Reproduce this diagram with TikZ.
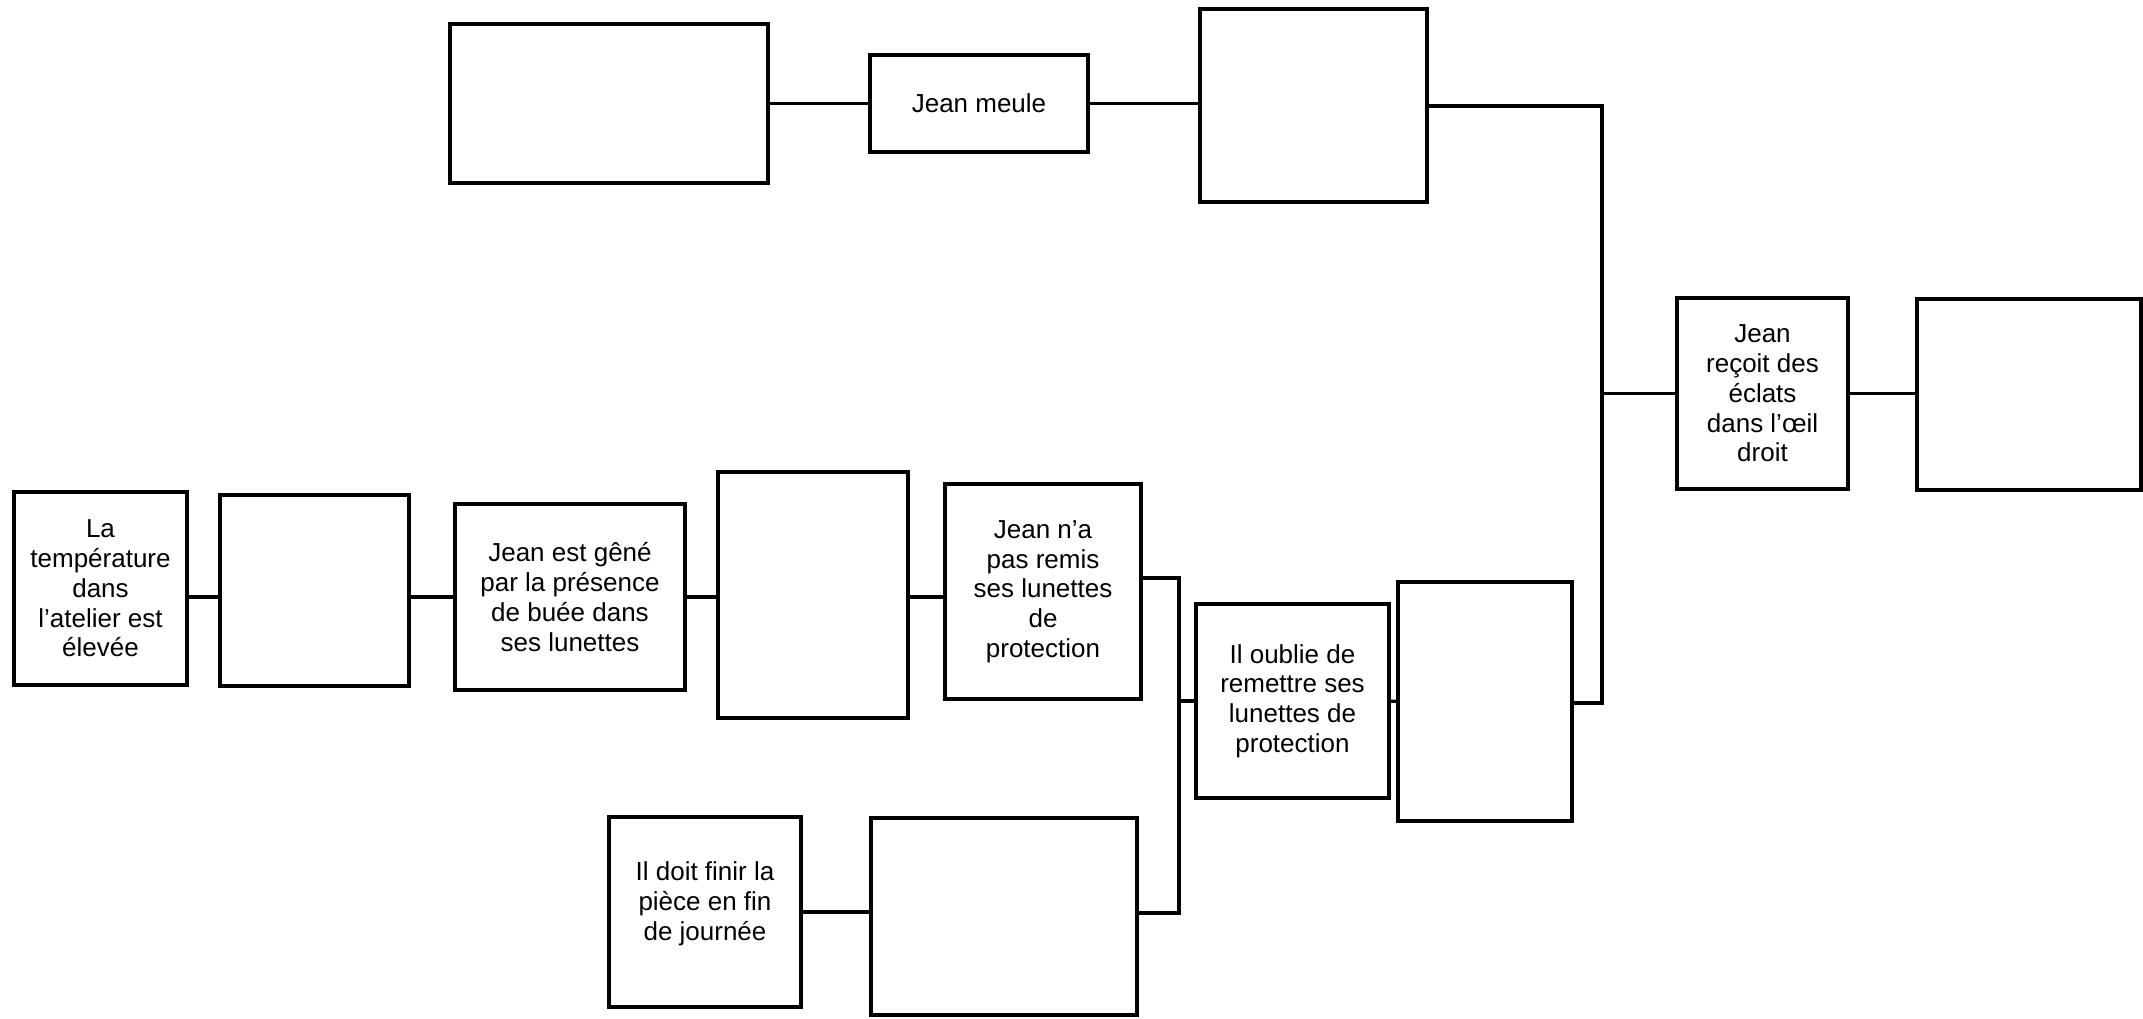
\documentclass[tikz,border=0pt]{standalone}
\usepackage{fontspec}
\setmainfont{Liberation Sans}
\begin{document}
\begin{tikzpicture}[x=0.5pt,y=-0.5pt,
  box/.style={draw, line width=1.6pt, inner sep=0pt, align=center,
    font=\fontsize{13}{14.85}\selectfont},
  conn/.style={line width=1.6pt}]
\useasboundingbox (0,0) rectangle (2143,1018);
% top row
\node[box, minimum width=159pt, minimum height=79.5pt] (t1) at (609,103.5) {};
\node[box, minimum width=109pt, minimum height=48.5pt] (m) at (979,103.5) {Jean meule};
\node[box, minimum width=113.5pt, minimum height=96.5pt] (t3) at (1313.5,105.5) {};
% right
\node[box, minimum width=85.5pt, minimum height=95.5pt] (r) at (1762.5,393.5) {Jean\\reçoit des\\éclats\\dans l’œil\\droit};
\node[box, minimum width=112pt, minimum height=95.5pt] (rj) at (2029,394.5) {};
% middle row
\node[box, minimum width=86.5pt, minimum height=96.5pt] (a) at (100.5,588.5) {La\\température\\dans\\l’atelier est\\élevée};
\node[box, minimum width=94.5pt, minimum height=95.5pt] (b) at (314.5,590.5) {};
\node[box, minimum width=115pt, minimum height=93pt] (c) at (570,597) {Jean est gêné\\par la présence\\de buée dans\\ses lunettes};
\node[box, minimum width=95pt, minimum height=123pt] (d) at (813,595) {};
\node[box, minimum width=98pt, minimum height=107.5pt] (e) at (1043,591.5) {Jean n’a\\pas remis\\ses lunettes\\de\\protection};
\node[box, minimum width=96.5pt, minimum height=97pt] (h) at (1292.5,701) {Il oublie de\\remettre ses\\lunettes de\\protection};
\node[box, minimum width=87pt, minimum height=119.5pt] (i) at (1485,701.5) {};
% bottom row
\node[box, minimum width=96pt, minimum height=95pt, text depth=11pt] (f) at (705,912) {Il doit finir la\\pièce en fin\\de journée};
\node[box, minimum width=133pt, minimum height=98.5pt] (g) at (1004,916.5) {};
% connector points
\coordinate (s1) at (1179,578);
\coordinate (s2) at (1179,913);
\coordinate (v1) at (1602,106);
\coordinate (v2) at (1602,703);
\coordinate (ly) at (0,597);
% connectors
\draw[conn] (t1) -- (m);
\draw[conn] (m.east) -- (m.east -| t3.west);
\draw[conn] (t3.east |- v1) -- (v1) -- (v2) -- (i.east |- v2);
\draw[conn] (v1 |- r.west) -- (r.west);
\draw[conn] (r.east) -- (r.east -| rj.west);
\draw[conn] (a.east |- ly) -- (b.west |- ly);
\draw[conn] (b.east |- ly) -- (c.west |- ly);
\draw[conn] (c.east |- ly) -- (d.west |- ly);
\draw[conn] (d.east |- ly) -- (e.west |- ly);
\draw[conn] (e.east |- s1) -- (s1) -- (s2) -- (g.east |- s2);
\draw[conn] (s1 |- h.west) -- (h.west);
\draw[conn] (h) -- (i);
\draw[conn] (f.east) -- (f.east -| g.west);
\end{tikzpicture}
\end{document}
